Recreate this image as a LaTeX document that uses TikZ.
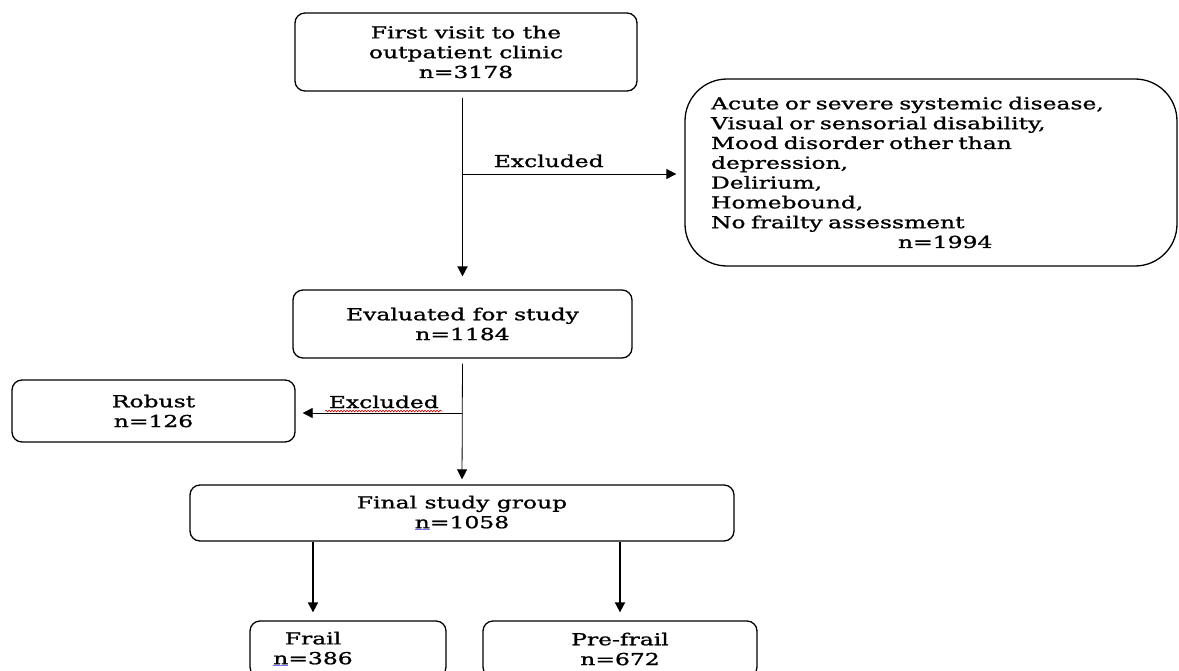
\documentclass[tikz,border=0pt]{standalone}
\usepackage{fontspec}
\setmainfont{DejaVu Serif}[FakeStretch=1.42,FakeBold=1.2]
\usetikzlibrary{arrows.meta,decorations.pathmorphing}
\newcommand{\blueul}[1]{{\color{blue!55}\underline{\color{black}#1}}}

\begin{document}
\begin{tikzpicture}[x=1pt,y=-1pt,>={Triangle[length=10pt,width=10pt]},
  font=\fontsize{16.5}{19.8}\selectfont,
  flowbox/.style={draw,line width=1.3pt,rounded corners=10pt,align=center,inner sep=0pt},
  mainarr/.style={->,line width=1.8pt},
  sidearr/.style={->,line width=0.8pt}]
  \useasboundingbox (0,0) rectangle (1179,670);
  \node[flowbox,minimum width=342,minimum height=78] (first) at (466,52) {First visit to the\\outpatient clinic\\n=3178};
  \node[flowbox,rounded corners=42pt,minimum width=492,minimum height=187,text width=440,align=left] (excl) at (931,172.5)
    {Acute or severe systemic disease,\\Visual or sensorial disability,\\Mood disorder other than\\depression,\\Delirium,\\Homebound,\\No frailty assessment\\\hspace*{187pt}n=1994};
  \node[flowbox,minimum width=339,minimum height=68] (evaluated) at (462.5,324) {Evaluated for study\\n=1184};
  \node[flowbox,minimum width=283,minimum height=62] (robust) at (153.5,411) {Robust\\n=126};
  \node[flowbox,minimum width=544,minimum height=56] (final) at (462,513) {Final study group\\\blueul{n}=1058};
  \node[flowbox,minimum width=196,minimum height=56] (frail) at (348,649) {};
  \node[align=center] (frailtxt) at (313,649) {Frail\\\blueul{n}=386};
  \node[flowbox,minimum width=274,minimum height=56] (prefrail) at (620,649) {Pre-frail\\n=672};
  \coordinate (split1) at (462,174);
  \coordinate (split2) at (462,413);
  \draw[mainarr,shorten <=6pt,shorten >=13pt] (evaluated.north |- first.south) -- (evaluated.north);
  \draw[sidearr,shorten >=8pt] (split1) -- (split1 -| excl.west) node[pos=.39,above=3pt] {Excluded};
  \draw[sidearr,shorten <=5pt,shorten >=5pt] (evaluated.south) -- (final.north);
  \draw[sidearr,shorten >=7pt] (split2) -- (split2 -| robust.east) node[pos=.47,above=1pt] (exlab) {Excluded};
  \draw[red!80!black,line width=.6pt,decorate,decoration={snake,amplitude=.8pt,segment length=3pt}]
    ([yshift=-3pt]exlab.base west) -- ([yshift=-3pt]exlab.base east);
  \draw[mainarr,shorten >=8pt] (final.south -| frailtxt) -- (frail.north -| frailtxt);
  \draw[mainarr,shorten >=8pt] (final.south -| prefrail) -- (prefrail.north);
\end{tikzpicture}
\end{document}
